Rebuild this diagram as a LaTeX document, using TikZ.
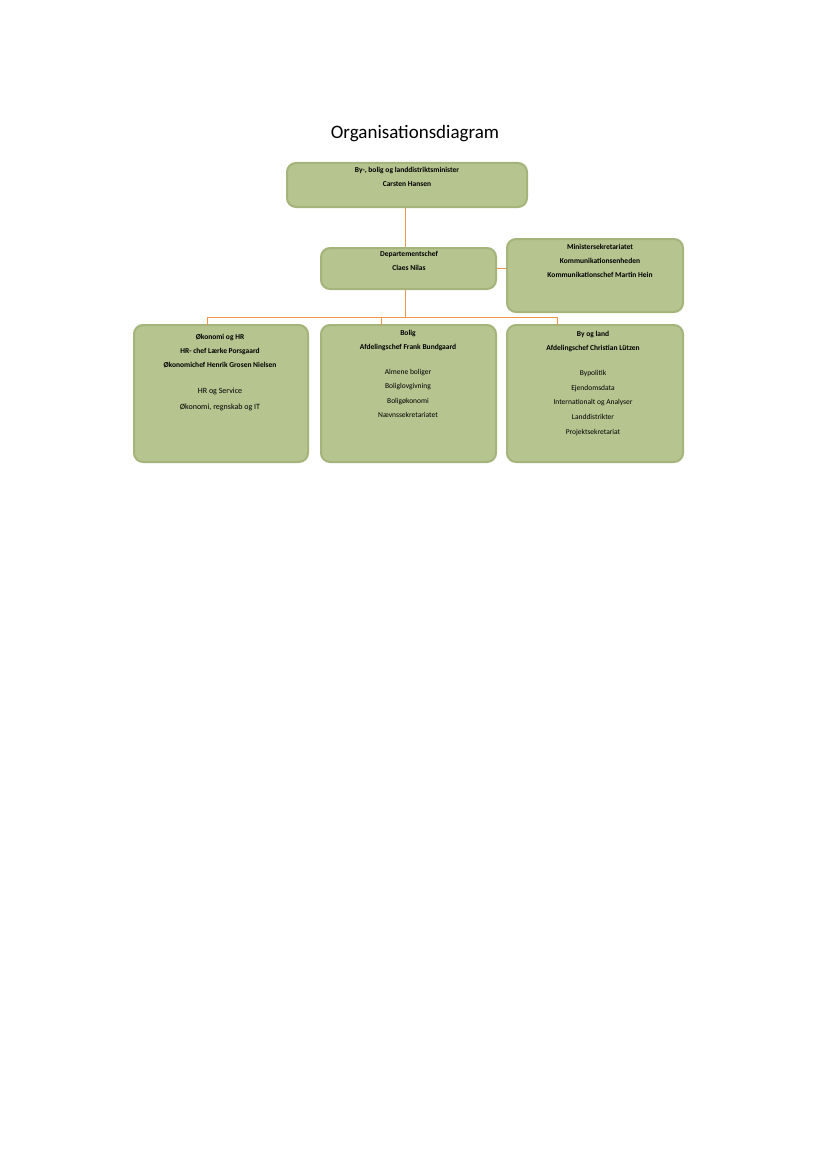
\documentclass[tikz,border=0pt]{standalone}
\usepackage{fontspec}
\setmainfont{Carlito}
\definecolor{boxfill}{HTML}{B6C490}
\definecolor{boxline}{HTML}{A4B47A}
\definecolor{conn}{HTML}{F0954A}
\tikzset{orgbox/.style={draw=boxline,line width=2pt,fill=boxfill,rounded corners=9pt},
 conline/.style={draw=conn,line width=1pt},
 lbl/.style={font=\bfseries\fontsize{7.5}{14}\selectfont,align=center,anchor=north,inner sep=0pt}}
\begin{document}
\begin{tikzpicture}[x=1pt,y=-1pt]
\useasboundingbox[fill=white] (0,0) rectangle (827,1169);
\node[font=\fontsize{19}{22}\selectfont] (title) at (415,134) {Organisationsdiagram};
% boxes
\draw[orgbox] (287,163) rectangle (527,207);
\draw[orgbox] (321,248) rectangle (496,289);
\draw[orgbox] (507,239) rectangle (683,312);
\draw[orgbox] (134,325) rectangle (308,462);
\draw[orgbox] (321,325) rectangle (496,462);
\draw[orgbox] (507,325) rectangle (683,462);
\coordinate (top) at (405,208);
\coordinate (dep) at (405,247);
\coordinate (depb) at (405,290);
\coordinate (depr) at (497,268);
\coordinate (sek) at (506,268);
\coordinate (hl) at (207,317);
\coordinate (hr) at (557,317);
\coordinate (hm) at (405,317);
\coordinate (b1) at (207,325);
\coordinate (b2) at (381,325);
\coordinate (b3) at (557,325);
\draw[conline] (top) -- (dep);
\draw[conline] (depr) -- (sek);
\draw[conline] (depb) -- (hm);
\draw[conline] (b1) -- (hl) -- (hr) -- (b3);
\draw[conline] (b2) -- (381,317);
% labels
\node[lbl] (t1) at (407,167) {By-, bolig og landdistriktsminister\\Carsten Hansen};
\node[lbl] (t2) at (409,251) {Departementschef\\Claes Nilas};
\node[lbl] (t3) at (600,244) {Ministersekretariatet\\Kommunikationsenheden\\Kommunikationschef Martin Hein};
\node[lbl] (t4) at (220,334) {Økonomi og HR\\HR- chef Lærke Porsgaard\\Økonomichef Henrik Grosen Nielsen};
\node[lbl,font=\fontsize{8}{16}\selectfont] (t4b) at (220,388) {HR og Service\\Økonomi, regnskab og IT};
\node[lbl] (t5) at (408,330) {Bolig\\Afdelingschef Frank Bundgaard};
\node[lbl,font=\fontsize{7.5}{14.5}\selectfont] (t5b) at (408,369) {Almene boliger\\Boliglovgivning\\Boligøkonomi\\Nævnssekretariatet};
\node[lbl] (t6) at (593,331) {By og land\\Afdelingschef Christian Lützen};
\node[lbl,font=\fontsize{7.5}{14.7}\selectfont] (t6b) at (593,370) {Bypolitik\\Ejendomsdata\\Internationalt og Analyser\\Landdistrikter\\Projektsekretariat};
\end{tikzpicture}
\end{document}
